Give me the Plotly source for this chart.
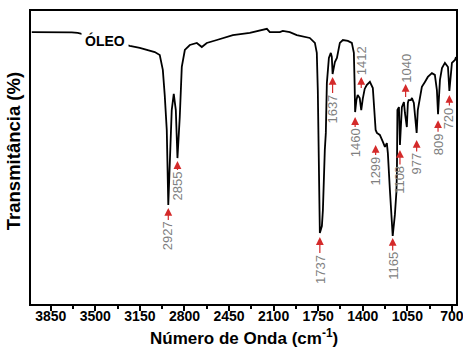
import numpy as np
import plotly.graph_objects as go

# Spectrum (wavenumber in cm-1, transmittance in arbitrary %)
wavenumber = [3999, 3858, 3685, 3638, 3620, 3465, 3229, 3151, 3033, 2994, 2970, 2955, 2939,
              2927, 2916, 2900, 2884, 2868, 2855, 2837, 2821, 2797, 2758, 2703, 2664, 2625,
              2546, 2420, 2287, 2208, 2153, 2130, 2051, 2028, 1973, 1918, 1816, 1776, 1761,
              1753, 1745, 1737, 1721, 1713, 1698, 1690, 1682, 1666, 1651, 1643, 1637, 1627,
              1619, 1603, 1580, 1556, 1517, 1486, 1470, 1464, 1460, 1450, 1440, 1424, 1412,
              1400, 1385, 1369, 1344, 1321, 1305, 1299, 1289, 1266, 1242, 1226, 1211, 1203,
              1187, 1175, 1165, 1148, 1136, 1132, 1128, 1116, 1108, 1093, 1077, 1069, 1054,
              1046, 1040, 1022, 1014, 999, 985, 977, 968, 936, 912, 889, 857, 834, 818, 809,
              794, 778, 755, 731, 720, 700, 676, 668]
transmittance = [92.8, 92.8, 92.7, 92.5, 92.3, 90.8, 88.1, 87.4, 86.0, 85.0, 79.9, 71.3, 59.4,
                 33.8, 49.1, 66.2, 71.7, 66.2, 49.8, 63.8, 80.9, 86.7, 88.4, 89.1, 87.7, 89.1,
                 90.1, 91.8, 92.5, 93.2, 93.9, 92.8, 92.8, 93.2, 92.8, 91.8, 90.8, 89.1, 85.7,
                 73.0, 49.1, 24.2, 26.6, 32.1, 52.6, 58.4, 75.4, 84.0, 85.7, 84.3, 78.5, 81.2,
                 82.6, 84.0, 89.1, 90.1, 89.8, 89.1, 85.7, 75.1, 65.5, 69.6, 71.3, 70.3, 66.2,
                 70.0, 73.4, 74.7, 75.8, 73.7, 64.5, 59.4, 58.4, 57.7, 55.3, 53.6, 54.9, 51.5,
                 38.9, 29.0, 23.2, 30.4, 38.2, 45.0, 66.2, 67.2, 54.3, 67.2, 68.9, 65.2, 60.4,
                 68.6, 69.6, 69.6, 70.3, 68.6, 62.1, 58.4, 66.2, 74.1, 75.8, 77.5, 78.8, 78.2,
                 73.0, 64.8, 76.5, 80.5, 82.3, 80.9, 72.7, 82.3, 83.3, 84.3]

# Labelled bands
peak_labels = [2927, 2855, 1737, 1637, 1460, 1412, 1299, 1165, 1108, 1040, 977, 809, 720]

# x-axis tick labels
x_ticks = [3850, 3500, 3150, 2800, 2450, 2100, 1750, 1400, 1050, 700]

sample_name = "ÓLEO"

# annotation placement (pixel offset of label centre, arrow standoff, side)
label_style = {
    2927: (31, 3, "below"), 2855: (28, 3, "below"), 1737: (36, 4, "below"),
    1637: (35, 3, "below"), 1460: (31, 5, "below"), 1412: (-49, 22, "above"),
    1299: (41, 15, "below"), 1165: (30, 2, "below"), 1108: (35, 5, "below"),
    1040: (-32, 3, "above"), 977: (31, 7, "below"), 809: (30, 6, "below"),
    720: (27, 4, "below"),
}

FONT = "Arial, Liberation Sans, sans-serif"
RED = "#d42a2a"

fig = go.Figure()
fig.add_trace(go.Scatter(x=wavenumber, y=transmittance, mode="lines",
                         line=dict(color="black", width=1.8), hoverinfo="skip"))

wn_sorted = np.array(wavenumber[::-1], dtype=float)
t_sorted = np.array(transmittance[::-1], dtype=float)

annotations = []
for p in peak_labels:
    ay, stand, side = label_style[p]
    yv = float(np.interp(p, wn_sorted, t_sorted))
    ann = dict(x=p, y=yv, xref="x", yref="y", text=str(p), textangle=-90,
               showarrow=True, ax=0, ay=ay, arrowcolor=RED, arrowwidth=1.2,
               font=dict(family=FONT, size=13, color="#7f7f7f"))
    if side == "below":
        ann.update(arrowhead=2, arrowsize=1.3, arrowside="end", standoff=stand)
    else:
        ann.update(startarrowhead=2, startarrowsize=1.3, arrowside="start",
                   standoff=stand, startstandoff=0)
        if p == 1040:
            ann.update(xshift=-3)
    annotations.append(ann)

annotations.append(dict(x=0.174, y=0.901, xref="paper", yref="paper",
                        xanchor="center", yanchor="middle",
                        text="<b>" + sample_name + "</b>", showarrow=False,
                        bgcolor="white", borderpad=3,
                        font=dict(family=FONT, size=14, color="black")))
annotations.append(dict(x=0.5, y=-0.112, xref="paper", yref="paper",
                        text="<b>Número de Onda (cm<sup>-1</sup>)</b>", showarrow=False,
                        xanchor="center", yanchor="middle",
                        font=dict(family=FONT, size=17, color="black")))
annotations.append(dict(x=-0.042, y=0.522, xref="paper", yref="paper",
                        text="<b>Transmitância (%)</b>", showarrow=False, textangle=-90,
                        xanchor="center", yanchor="middle",
                        font=dict(family=FONT, size=18.5, color="black")))

fig.update_layout(
    width=463, height=347,
    margin=dict(l=31, r=7, t=11, b=43, autoexpand=False),
    plot_bgcolor="white", paper_bgcolor="white",
    showlegend=False,
    annotations=annotations,
    xaxis=dict(range=[4005, 668], tickvals=x_ticks, ticktext=[str(v) for v in x_ticks],
               ticks="outside", ticklen=5, tickwidth=1.5, tickcolor="black",
               ticklabelstandoff=-7, ticklabeloverflow="allow",
               showline=True, linewidth=2, linecolor="black", mirror=True,
               showgrid=False, zeroline=False,
               tickfont=dict(family=FONT, size=14, color="black", weight="bold"),
               minor=dict(ticks="outside", ticklen=3, tickwidth=1.5, tickcolor="black",
                          dtick=175, tick0=700, showgrid=False)),
    yaxis=dict(range=[0, 100], showticklabels=False, ticks="",
               showline=True, linewidth=2, linecolor="black", mirror=True,
               showgrid=False, zeroline=False),
)

fig.write_html("out.html", config={"displayModeBar": False},
               post_script="document.body.style.margin='0';document.body.style.overflow='hidden';")
